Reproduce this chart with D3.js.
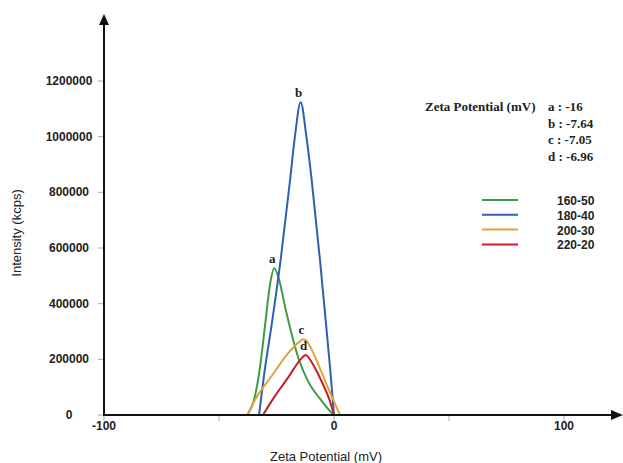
<!DOCTYPE html>
<html lang="en">
<head>
<meta charset="UTF-8" />
<title>Zeta Potential</title>
<script src="https://d3js.org/d3.v7.min.js"></script>
<style>
  body { margin: 0; background: #fff; }
  svg { display: block; }
</style>
</head>
<body>
<svg id="chart" width="623" height="463"></svg>
<script>
// values: [zeta potential (mV), intensity (kcps)]
var green = [[-37.7,0],[-34.3,70000],[-32.2,170000],[-30.0,320000],[-27.8,470000],[-26.0,527000],
             [-24.0,490000],[-21.3,390000],[-18.4,290000],[-15.5,205000],[-11.2,120000],[-5.3,50000],[-0.3,0]];
var blue = [[-32.6,0],[-30.3,150000],[-27.0,330000],[-23.2,557000],[-19.1,844000],[-17.0,1000000],
            [-14.5,1123500],[-12.0,1000000],[-9.7,844000],[-6.1,557000],[-3.5,330000],[-1.5,150000],[0,0]];
var orange = [[-37.7,0],[-34.3,55000],[-27.1,140000],[-19.9,222000],[-15.5,260000],[-13.3,272000],
              [-11.5,262000],[-9.7,235000],[-6.1,167800],[-2.5,95900],[2.6,0]];
var red = [[-30.9,0],[-25.7,68000],[-19.9,135000],[-14.5,200000],[-12.3,215600],[-10.5,200000],[-9.0,179700],
           [-5.3,119600],[-1.7,47800],[0,0]];

var seriesNames = ["160-50", "180-40", "200-30", "220-20"];
var seriesColors = ["#3f9c45", "#2f5fb3", "#e0a23c", "#c2212b"];
var peakLetters = ["a", "b", "c", "d"];
var zetaValues = ["a : -16", "b : -7.64", "c : -7.05", "d : -6.96"];
var yTicks = [0, 200000, 400000, 600000, 800000, 1000000, 1200000];
var xTicks = [-100, 0, 100];
var xMinor = [-50, 50];

var svg = d3.select("#chart");

var x = d3.scaleLinear().domain([-100, 100]).range([104, 564]);
var y = d3.scaleLinear().domain([0, 1200000]).range([415, 81]);
var y0 = y(0);

// y ticks + labels
svg.selectAll(".ytick").data(yTicks).enter().append("line")
  .attr("x1", 98).attr("x2", 104)
  .attr("y1", function(d){ return y(d) }).attr("y2", function(d){ return y(d) })
  .attr("stroke", "#aaa").attr("stroke-width", 1);
svg.selectAll(".ylab").data(yTicks).enter().append("text")
  .attr("x", 69).attr("y", function(d){ return y(d) + 4 })
  .attr("text-anchor", "middle")
  .style("font", "bold 12px 'Liberation Sans', Arial, sans-serif")
  .attr("fill", "#222")
  .text(function(d){ return d });

// x ticks + labels
svg.selectAll(".xtick").data(xTicks.concat(xMinor)).enter().append("line")
  .attr("x1", function(d){ return x(d) }).attr("x2", function(d){ return x(d) })
  .attr("y1", y0).attr("y2", y0 + 6)
  .attr("stroke", "#aaa").attr("stroke-width", 1);
svg.selectAll(".xlab").data(xTicks).enter().append("text")
  .attr("x", function(d){ return x(d) }).attr("y", y0 + 15)
  .attr("text-anchor", "middle")
  .style("font", "bold 12px 'Liberation Sans', Arial, sans-serif")
  .attr("fill", "#222")
  .text(function(d){ return d });

// curves
var line = d3.line()
  .x(function(d){ return x(d[0]) })
  .y(function(d){ return y(d[1]) })
  .curve(d3.curveMonotoneX);

var allSeries = [green, blue, orange, red];
svg.selectAll(".curve").data(allSeries).enter().append("path")
  .attr("d", line)
  .attr("fill", "none")
  .attr("stroke", function(d, i){ return seriesColors[i] })
  .attr("stroke-width", 2);

// peak letters
svg.selectAll(".peak").data(allSeries).enter().append("text")
  .attr("x", function(d){ return x(d3.greatest(d, function(p){ return p[1] })[0]) - 2 })
  .attr("y", function(d){ return y(d3.max(d, function(p){ return p[1] })) - 5 })
  .attr("text-anchor", "middle")
  .style("font", "bold 13px 'Liberation Serif', 'Times New Roman', serif")
  .attr("fill", "#222")
  .text(function(d, i){ return peakLetters[i] });

// axes with arrows
svg.append("line").attr("x1", 104).attr("x2", 104).attr("y1", y0 + 1).attr("y2", 22)
  .attr("stroke", "#111").attr("stroke-width", 2);
svg.append("path").attr("d", "M104,14 L99,25 L109,25 Z").attr("fill", "#111");
svg.append("line").attr("x1", 103).attr("x2", 614).attr("y1", y0).attr("y2", y0)
  .attr("stroke", "#111").attr("stroke-width", 2);
svg.append("path").attr("d", "M623," + y0 + " L611," + (y0 - 5) + " L611," + (y0 + 5) + " Z").attr("fill", "#111");

// axis titles
svg.append("text").attr("x", 326).attr("y", 461).attr("text-anchor", "middle")
  .style("font", "13px 'Liberation Sans', Arial, sans-serif").attr("fill", "#222")
  .text("Zeta Potential (mV)");
svg.append("text").attr("transform", "translate(21,233) rotate(-90)").attr("text-anchor", "middle")
  .style("font", "13px 'Liberation Sans', Arial, sans-serif").attr("fill", "#222")
  .text("Intensity (kcps)");

// zeta potential notes
svg.append("text").attr("x", 425).attr("y", 111)
  .style("font", "bold 13px 'Liberation Serif', 'Times New Roman', serif").attr("fill", "#222")
  .text("Zeta Potential (mV)");
svg.selectAll(".zeta").data(zetaValues).enter().append("text")
  .attr("x", 548).attr("y", function(d, i){ return 111 + i * 16.7 })
  .style("font", "bold 13px 'Liberation Serif', 'Times New Roman', serif").attr("fill", "#222")
  .text(function(d){ return d });

// legend
var legend = svg.selectAll(".leg").data(seriesNames).enter().append("g")
  .attr("transform", function(d, i){ return "translate(0," + (200 + i * 14.8) + ")" });
legend.append("line").attr("x1", 482).attr("x2", 518).attr("y1", 0).attr("y2", 0)
  .attr("stroke", function(d, i){ return seriesColors[i] }).attr("stroke-width", 2);
legend.append("text").attr("x", 557).attr("y", 5)
  .style("font", "bold 12px 'Liberation Sans', Arial, sans-serif").attr("fill", "#222")
  .text(function(d){ return d });
</script>
</body>
</html>
